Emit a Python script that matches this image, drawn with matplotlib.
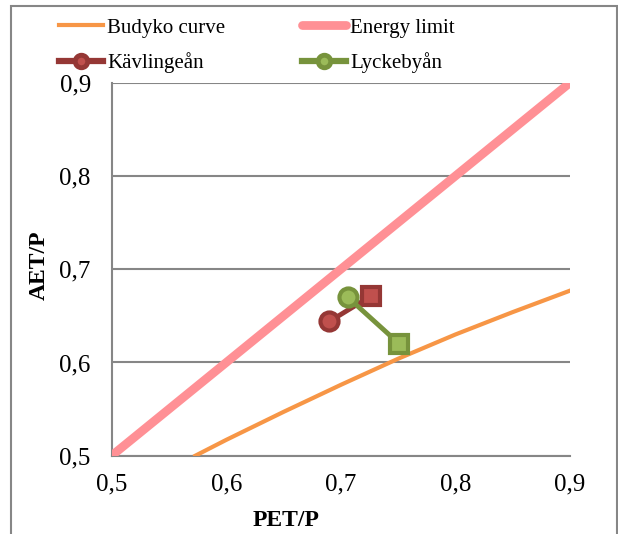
import numpy as np
import matplotlib.pyplot as plt
from matplotlib.patches import Rectangle
from matplotlib.ticker import FuncFormatter

# values
budyko_x = [0.573, 0.60, 0.65, 0.70, 0.75, 0.80, 0.85, 0.90]
budyko_y = [0.500, 0.517, 0.547, 0.576, 0.604, 0.630, 0.654, 0.677]
energy_x = [0.5, 0.9]
energy_y = [0.5, 0.9]
kav_x = [0.690, 0.726]
kav_y = [0.644, 0.671]
lyc_x = [0.706, 0.751]
lyc_y = [0.670, 0.620]
ticks = [0.5, 0.6, 0.7, 0.8, 0.9]

plt.rcParams['font.family'] = ['Liberation Serif', 'DejaVu Serif']

fig = plt.figure(figsize=(6.18, 5.34), dpi=100)
ax = fig.add_axes([0.1807, 0.1466, 0.7416, 0.6985])

h_bud, = ax.plot(budyko_x, budyko_y, color='#f79646', lw=3, label='Budyko curve', zorder=3)
h_en, = ax.plot(energy_x, energy_y, color='#ff9095', lw=6.3, solid_capstyle='round',
                label='Energy limit', zorder=3)

# Kävlingeån
ax.plot(kav_x, kav_y, color='#953735', lw=3.5, zorder=4)
ax.plot(kav_x[1], kav_y[1], marker='s', ms=13, mew=3, mfc='#c0504d',
        mec='#953735', ls='none', zorder=4)
ax.plot(kav_x[0], kav_y[0], marker='o', ms=13, mew=3, mfc='#c0504d',
        mec='#953735', ls='none', zorder=4)

# Lyckebyån
ax.plot(lyc_x, lyc_y, color='#77933c', lw=3.5, zorder=5)
ax.plot(lyc_x[1], lyc_y[1], marker='s', ms=13, mew=3, mfc='#9bbb59',
        mec='#77933c', ls='none', zorder=5)
ax.plot(lyc_x[0], lyc_y[0], marker='o', ms=13, mew=3, mfc='#9bbb59',
        mec='#77933c', ls='none', zorder=5)

# legend-only handles
h_kav, = ax.plot([], [], color='#953735', lw=4.5, marker='o', ms=9, mew=3.5,
                 mfc='#c0504d', mec='#953735', label='Kävlingeån')
h_lyc, = ax.plot([], [], color='#77933c', lw=4.5, marker='o', ms=9, mew=3.5,
                 mfc='#9bbb59', mec='#77933c', label='Lyckebyån')

ax.set_xlim(0.5, 0.9)
ax.set_ylim(0.5, 0.9)
ax.set_xticks(ticks)
ax.set_yticks(ticks)
fmt = FuncFormatter(lambda v, p: f'{v:.1f}'.replace('.', ','))
ax.xaxis.set_major_formatter(fmt)
ax.yaxis.set_major_formatter(fmt)
ax.tick_params(length=0, labelsize=18)
ax.tick_params(axis='y', pad=15)
ax.tick_params(axis='x', pad=13)

ax.yaxis.grid(True, color='#868686', lw=1.5)
ax.set_axisbelow(True)
ax.spines['right'].set_visible(False)
ax.spines['top'].set_visible(False)
for s in ['left', 'bottom']:
    ax.spines[s].set_color('#868686')
    ax.spines[s].set_linewidth(1.5)

ax.set_xlabel('PET/P', fontsize=17, weight='bold')
ax.xaxis.set_label_coords(0.38, -0.145)
ax.set_ylabel('AET/P', fontsize=17, weight='bold')
ax.yaxis.set_label_coords(-0.134, 0.51)

fig.legend([h_bud, h_kav, h_en, h_lyc],
           ['Budyko curve', 'Kävlingeån', 'Energy limit', 'Lyckebyån'],
           ncol=2, loc='upper left',
           bbox_to_anchor=(59 / 618, 1 - 18 / 534), frameon=False,
           fontsize=15, handlelength=2.1, handletextpad=0.2,
           columnspacing=3.7, labelspacing=0.72, borderpad=0, borderaxespad=0)

fig.patches.append(Rectangle((11 / 618, -0.01), 606 / 618, 1 - 6 / 534 + 0.01,
                             transform=fig.transFigure, fill=False,
                             ec='#868686', lw=1.5))

fig.savefig('out.png', dpi=100)
